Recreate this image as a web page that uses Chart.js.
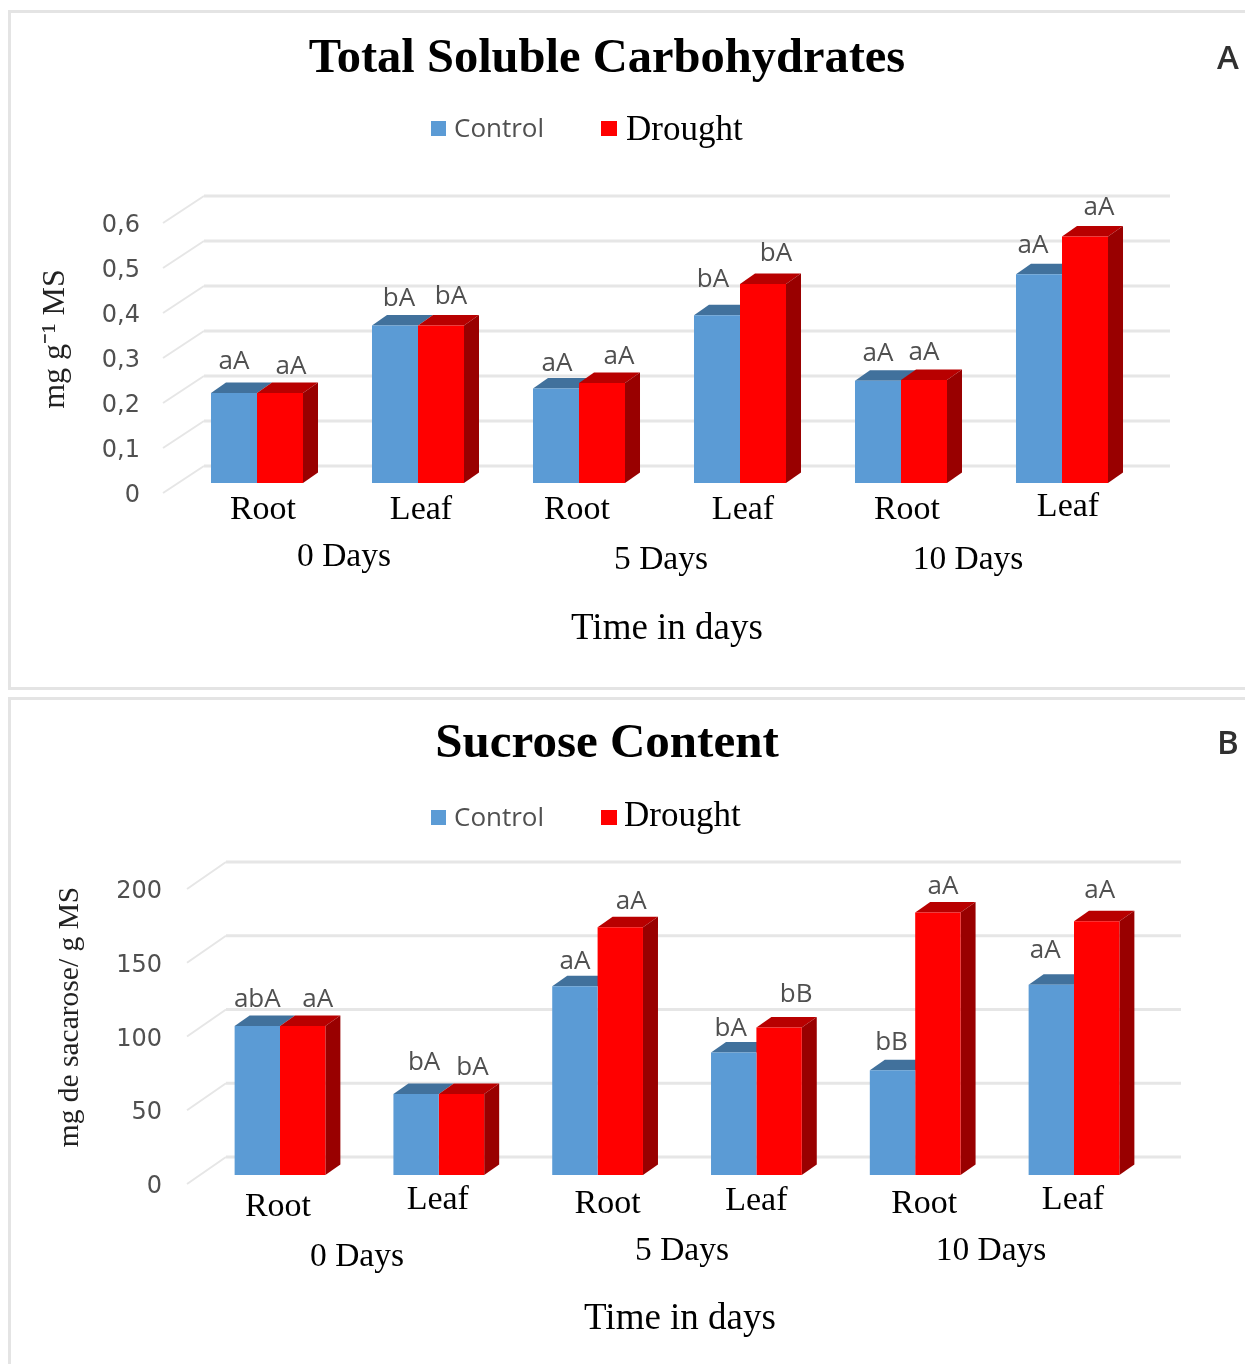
<!DOCTYPE html>
<html>
<head>
<meta charset="utf-8">
<title>Total Soluble Carbohydrates / Sucrose Content</title>
<script src="https://cdn.jsdelivr.net/npm/chart.js@4"></script>
<style>
  html, body { margin: 0; padding: 0; background: #fff; overflow: hidden; }
  body { position: relative; width: 1245px; height: 1364px; }
  .frame { position: absolute; left: 8px; width: 1300px; border: 3px solid #e4e4e4; box-sizing: border-box; }
  canvas { position: absolute; left: 0; filter: blur(0.6px); }
</style>
</head>
<body>
<div class="frame" style="top:10px;height:680px"></div>
<div class="frame" style="top:697px;height:720px"></div>
<canvas id="chartA" width="1245" height="690" style="top:0"></canvas>
<canvas id="chartB" width="1245" height="674" style="top:690px"></canvas>
<script>
// ─── data ─────────────────────────────────────────────────────────────────────
const ORGANS = ['Root', 'Leaf', 'Root', 'Leaf', 'Root', 'Leaf'];
const DAY_LABELS = ['0 Days', '5 Days', '10 Days'];

const CARB_TICKS = ['0', '0,1', '0,2', '0,3', '0,4', '0,5', '0,6'];
const CARB_CONTROL = [0.20, 0.35, 0.21, 0.373, 0.227, 0.464];
const CARB_DROUGHT = [0.20, 0.35, 0.222, 0.442, 0.229, 0.548];
const CARB_SIG_CONTROL = ['aA', 'bA', 'aA', 'bA', 'aA', 'aA'];
const CARB_SIG_DROUGHT = ['aA', 'bA', 'aA', 'bA', 'aA', 'aA'];

const SUC_TICKS = ['0', '50', '100', '150', '200'];
const SUC_CONTROL = [101, 55, 128, 83, 71, 129];
const SUC_DROUGHT = [101, 55, 168, 100, 178, 172];
const SUC_SIG_CONTROL = ['abA', 'bA', 'aA', 'bA', 'bB', 'aA'];
const SUC_SIG_DROUGHT = ['aA', 'bA', 'aA', 'bB', 'aA', 'aA'];

// ─── colours ──────────────────────────────────────────────────────────────────
const COLORS = {
  control: '#5b9bd5', controlTop: '#41719c',
  drought: '#ff0000', droughtTop: '#b80000', droughtSide: '#990000',
  grid: '#e6e6e6', tick: '#505050',
};
const SERIF = '"Liberation Serif"';
const SANS = '"Open Sans"';
const WIDE = '"DejaVu Sans"';

function put(ctx, str, x, y, font, color, align = 'center', angle = 0) {
  ctx.save();
  ctx.translate(x, y + 2);
  if (angle) ctx.rotate(angle);
  ctx.font = font;
  ctx.fillStyle = color;
  ctx.textAlign = align;
  ctx.textBaseline = 'middle';
  ctx.fillText(str, 0, 0);
  ctx.restore();
}

function poly(ctx, color, pts) {
  ctx.fillStyle = color;
  ctx.beginPath();
  pts.forEach(([x, y], i) => i ? ctx.lineTo(x, y) : ctx.moveTo(x, y));
  ctx.closePath();
  ctx.fill();
}

// ─── 3D box faces, receding grid and all the panel text ───────────────────────
const panel3d = {
  id: 'panel3d',
  beforeDatasetsDraw(chart, args, o) {
    const { ctx, scales: { y } } = chart;
    // grid: floor diagonal + back wall line for each tick
    o.ticks.forEach((_, i) => {
      const py = y.getPixelForValue(i * o.step);
      ctx.strokeStyle = COLORS.grid;
      ctx.lineWidth = 2;
      ctx.beginPath();
      ctx.moveTo(o.gridX[0], py + o.gridFront);
      ctx.lineTo(o.gridX[1], py + o.gridBack);
      ctx.stroke();
      ctx.lineWidth = 3;
      ctx.beginPath();
      ctx.moveTo(o.gridX[1], py + o.gridBack);
      ctx.lineTo(o.gridX[2], py + o.gridBack);
      ctx.stroke();
    });
    // side and top faces sit behind the native front faces
    const dx = 15, dy = -10.5;
    const blue = chart.getDatasetMeta(0).data;
    const red = chart.getDatasetMeta(1).data;
    blue.forEach((b, i) => {
      const r = red[i];
      const bl = b.x - b.width / 2, br = b.x + b.width / 2;
      const rl = r.x - r.width / 2, rr = r.x + r.width / 2;
      poly(ctx, COLORS.controlTop, [[bl, b.y], [bl + dx, b.y + dy], [br + dx, b.y + dy], [br, b.y]]);
      poly(ctx, COLORS.droughtTop, [[rl, r.y], [rl + dx, r.y + dy], [rr + dx, r.y + dy], [rr, r.y]]);
      poly(ctx, COLORS.droughtSide, [[rr, r.y], [rr + dx, r.y + dy], [rr + dx, r.base + dy], [rr, r.base]]);
    });
  },
  afterDatasetsDraw(chart, args, o) {
    const { ctx, scales: { x, y } } = chart;
    // title + panel letter
    put(ctx, o.title, o.titleAt[0], o.titleAt[1], `bold ${o.titleSize}px ${SERIF}`, '#000');
    put(ctx, o.letter, 1228, o.letterY, `600 33px ${SANS}`, '#303030');
    // legend
    const [ly, dly, droughtX] = o.legend;
    ctx.fillStyle = COLORS.control; ctx.fillRect(431, ly - 7, 15, 15);
    ctx.fillStyle = COLORS.drought; ctx.fillRect(601, ly - 7, 16, 15);
    put(ctx, 'Control', 454, ly, `26px ${SANS}`, COLORS.tick, 'left');
    put(ctx, 'Drought', droughtX, ly + dly + 1, `35px ${SERIF}`, '#000', 'left');
    // value axis
    o.ticks.forEach((t, i) => {
      put(ctx, t, o.tickRight, y.getPixelForValue(i * o.step) + o.gridFront + 1, `24px ${WIDE}`, COLORS.tick, 'right');
    });
    put(ctx, o.yTitle, o.yTitleAt[0], o.yTitleAt[1], o.yTitleFont, '#222', 'center', -Math.PI / 2);
    // categories
    ORGANS.forEach((c, i) => {
      put(ctx, c, x.getPixelForTick(i) + o.catNudgeX[i], o.catY[i], `34px ${SERIF}`, '#000');
    });
    DAY_LABELS.forEach((d, i) => {
      put(ctx, d, o.dayAt[i][0], o.dayAt[i][1], `33.5px ${SERIF}`, '#000');
    });
    put(ctx, 'Time in days', o.timeAt[0], o.timeAt[1], `37px ${SERIF}`, '#000');
    // significance letters
    [0, 1].forEach(ds => {
      chart.getDatasetMeta(ds).data.forEach((b, i) => {
        const [nx, ny] = o.sigNudge[ds][i];
        put(ctx, o.sig[ds][i], b.x + nx, b.y + ny - 1, `26px ${SANS}`, COLORS.tick);
      });
    });
  },
};

function drawPanel(id, control, drought, yMax, padding, opts) {
  return new Chart(document.getElementById(id), {
    type: 'bar',
    data: {
      labels: ORGANS,
      datasets: [
        { label: 'Control', data: control, backgroundColor: COLORS.control },
        { label: 'Drought', data: drought, backgroundColor: COLORS.drought },
      ],
    },
    options: {
      responsive: false, animation: false,
      layout: { padding },
      datasets: { bar: { categoryPercentage: 0.5715, barPercentage: 1 } },
      plugins: { legend: { display: false }, tooltip: { enabled: false }, panel3d: opts },
      scales: {
        x: { display: false },
        y: { display: false, min: 0, max: yMax },
      },
    },
    plugins: [panel3d],
  });
}

drawPanel('chartA', CARB_CONTROL, CARB_DROUGHT, 0.6,
  { left: 176.5, right: 102.5, top: 213, bottom: 207 }, {
    title: 'Total Soluble Carbohydrates', titleAt: [607, 57], titleSize: 48.5, letter: 'A', letterY: 58,
    legend: [128, 0, 626],
    ticks: CARB_TICKS, step: 0.1, tickRight: 140,
    gridX: [163, 204, 1170], gridFront: 10, gridBack: -17,
    yTitle: 'mg g⁻¹ MS', yTitleAt: [56, 337], yTitleFont: `32px ${SERIF}`,
    catNudgeX: [6, 3, -2, 3, 6, 6], catY: [508, 508, 508, 508, 508, 505],
    dayAt: [[344, 555], [661, 558], [968, 558]], timeAt: [667, 627],
    sig: [CARB_SIG_CONTROL, CARB_SIG_DROUGHT],
    sigNudge: [
      [[0, -32], [4, -28], [1, -26], [-4, -37], [0, -28], [-6, -30]],
      [[11, -27], [10, -30], [17, -28], [13, -32], [0, -28], [14, -30]],
    ],
  });

drawPanel('chartB', SUC_CONTROL, SUC_DROUGHT, 200,
  { left: 200.6, right: 91.6, top: 190, bottom: 189 }, {
    title: 'Sucrose Content', titleAt: [607, 52], titleSize: 49, letter: 'B', letterY: 53,
    legend: [127, -3, 624],
    ticks: SUC_TICKS, step: 50, tickRight: 162,
    gridX: [187, 226, 1181], gridFront: 9, gridBack: -18,
    yTitle: 'mg de sacarose/ g MS', yTitleAt: [70, 325], yTitleFont: `29.5px ${SERIF}`,
    catNudgeX: [-2, -1, 10, 0, 9, -1], catY: [515, 508, 512, 509, 512, 508],
    dayAt: [[357, 565], [682, 559], [991, 559]], timeAt: [680, 627],
    sig: [SUC_SIG_CONTROL, SUC_SIG_DROUGHT],
    sigNudge: [
      [[0, -27], [8, -32], [0, -26], [-3, -25], [-1, -29], [-6, -35]],
      [[15, -27], [11, -27], [11, -27], [17, -34], [5, -27], [3, -32]],
    ],
  });
</script>
</body>
</html>
